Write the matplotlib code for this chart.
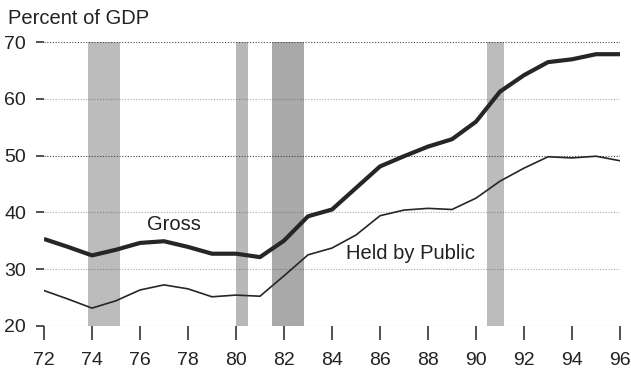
import matplotlib.pyplot as plt

# federal debt as percent of GDP, fiscal years 1972-1996
years = list(range(72, 97))
gross = [35.3, 33.9, 32.4, 33.4, 34.6, 34.9, 33.9, 32.7, 32.7, 32.1, 35.0, 39.3,
         40.5, 44.3, 48.1, 49.9, 51.6, 52.9, 56.0, 61.3, 64.2, 66.5, 67.0, 67.9, 67.9]
held = [26.2, 24.7, 23.1, 24.4, 26.3, 27.2, 26.5, 25.1, 25.4, 25.2, 28.8, 32.5,
        33.7, 36.0, 39.4, 40.4, 40.7, 40.5, 42.5, 45.5, 47.8, 49.8, 49.6, 49.9, 49.1]

# recession periods (start, end) in fractional years
recessions = [(73.83, 75.17), (80.0, 80.5), (81.5, 82.83), (90.46, 91.17)]
recession_shades = ['#bcbcbc', '#b8b8b8', '#a9a9a9', '#bcbcbc']

yticks = [20, 30, 40, 50, 60, 70]
grid_alpha = [1.0, 0.45, 0.45, 1.0, 0.45, 1.0]
xticks = list(range(72, 97, 2))

plt.rcParams['font.family'] = ['Liberation Sans', 'DejaVu Sans']
txt = '#222222'

fig = plt.figure(figsize=(6.31, 3.76), dpi=100)
ax = fig.add_axes([0.0697, 0.1338, 0.9129, 0.7537])

for (a, b), c in zip(recessions, recession_shades):
    ax.axvspan(a, b, ymin=0, ymax=1, color=c, lw=0, zorder=1)

for v, al in zip(yticks, grid_alpha):
    ax.axhline(v, color='#444444', lw=0.8, ls=(0, (1, 1.5)), alpha=al, zorder=2)

ax.plot(years, gross, color='#262626', lw=3.0, solid_joinstyle='round',
        solid_capstyle='butt', zorder=3)
ax.plot(years, held, color='#262626', lw=1.2, solid_joinstyle='round', zorder=3)

ax.text(77.4, 37.8, 'Gross', fontsize=14.5, color=txt, ha='center', va='center')
ax.text(87.25, 32.7, 'Held by Public', fontsize=14.5, color=txt, ha='center', va='center')
fig.text(0.013, 0.952, 'Percent of GDP', fontsize=14.5, color=txt, ha='left', va='center')

ax.set_xlim(72, 96)
ax.set_ylim(20, 70)
ax.set_xticks(xticks)
ax.set_xticklabels([str(x) for x in xticks])
ax.set_yticks(yticks)
for s in ax.spines.values():
    s.set_visible(False)
ax.tick_params(axis='x', direction='out', length=10, width=1.1, pad=9,
               labelsize=14, colors=txt)
ax.tick_params(axis='y', direction='out', length=6, width=1.1, pad=7,
               labelsize=14, colors=txt)

plt.savefig('out.png', dpi=100)
